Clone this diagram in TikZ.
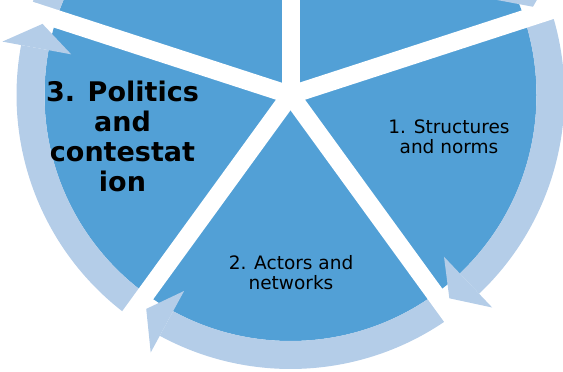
\documentclass[tikz,border=0pt]{standalone}
\usepackage{fontspec}
\setmainfont{DejaVu Sans}
\definecolor{pieblue}{RGB}{82,160,214}
\definecolor{ringblue}{RGB}{180,205,232}

\tikzset{
    wedge/.style={fill=pieblue},
    ringarrow/.style={fill=ringblue},
    gapline/.style={draw=white, line width=18pt},
    steptext/.style={align=center, font=\fontsize{18.5}{20}\selectfont},
    bigtext/.style={align=center, font=\fontsize{27}{30}\selectfont\bfseries}
}

\begin{document}
\begin{tikzpicture}[x=1pt,y=1pt]
    \useasboundingbox (0,0) rectangle (563,372);
    \clip (0,0) rectangle (563,372);

    \begin{scope}[shift={(290.5,277)}]
        \fill[wedge] (0,0) circle[radius=246];
        % bands of the circular arrows, clockwise
        \foreach \g in {162,90,18,-54,-126}
        {\fill[ringarrow] (\g:246) arc[start angle=\g, end angle=\g-64.5, radius=246]
            -- (\g-64.5:274) arc[start angle=\g-64.5, end angle=\g, radius=274] -- cycle;}
        % white gaps between the wedges
        \foreach \g in {162,90,18,-54,-126}
        {\draw[gapline] (0,0) -- (\g:300);}
        % arrow heads
        \foreach \g in {162,90,18,-54,-126}
        {\fill[ringarrow] (\g-64.5:223) -- (\g-70:258) -- (\g-64.5:293) -- cycle;}
    \end{scope}

    \node[steptext] (structures) at (449,235) {1. Structures\\and norms}; %1
    \node[steptext] (actors) at (291,99) {2. Actors and\\networks}; %2
    \node[bigtext] (politics) at (122.5,236) {3. Politics\\and\\contestat\\ion}; %3
\end{tikzpicture}
\end{document}
